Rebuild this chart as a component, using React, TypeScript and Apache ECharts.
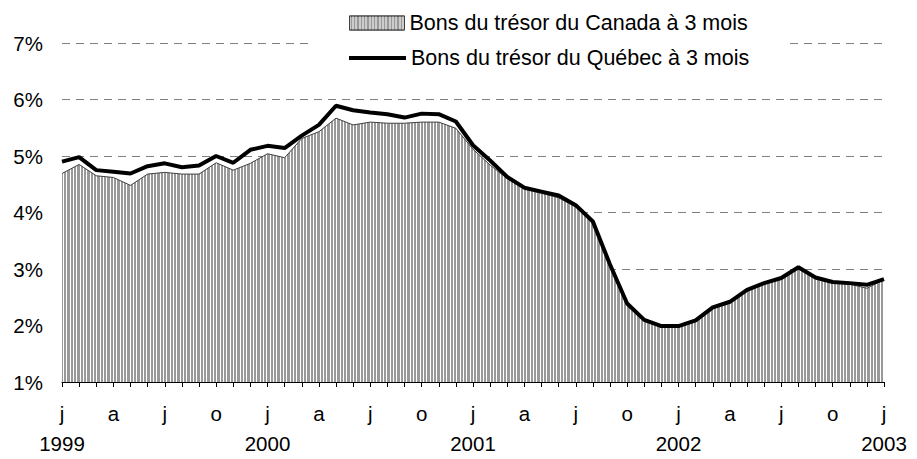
import { useEffect, useRef } from "react";
import * as echarts from "echarts";

const years = ["1999", "2000", "2001", "2002", "2003"];
const monthLetters = ["j", "f", "m", "a", "m", "j", "j", "a", "s", "o", "n", "d"];

// 49 monthly categories, Jan 1999 .. Jan 2003
const categories: string[] = [];
for (let y = 0; y < 4; y++) {
  for (let m = 0; m < 12; m++) categories.push(years[y] + "-" + String(m + 1).padStart(2, "0"));
}
categories.push(years[4] + "-01");

const tickLabels: string[] = categories.map((c) => {
  const [yy, mm] = c.split("-");
  const mi = parseInt(mm, 10) - 1;
  return mi === 0 ? monthLetters[mi] + "\n" + yy : monthLetters[mi];
});

const canadaName = "Bons du trésor du Canada à 3 mois";
const quebecName = "Bons du trésor du Québec à 3 mois";

const canada = [
  4.69, 4.85, 4.65, 4.62, 4.48, 4.68, 4.71, 4.68, 4.68, 4.88, 4.75, 4.87,
  5.04, 4.97, 5.31, 5.43, 5.67, 5.55, 5.60, 5.58, 5.58, 5.60, 5.60, 5.49,
  5.12, 4.84, 4.60, 4.41, 4.34, 4.26, 4.10, 3.82, 3.06, 2.37, 2.08, 1.97,
  1.97, 2.07, 2.30, 2.40, 2.61, 2.73, 2.82, 3.02, 2.83, 2.75, 2.73, 2.66,
  2.81,
];

const quebec = [
  4.90, 4.98, 4.75, 4.72, 4.69, 4.82, 4.87, 4.80, 4.83, 5.00, 4.88, 5.11,
  5.18, 5.14, 5.36, 5.55, 5.89, 5.81, 5.77, 5.74, 5.68, 5.75, 5.74, 5.61,
  5.19, 4.92, 4.63, 4.44, 4.37, 4.30, 4.13, 3.84, 3.08, 2.39, 2.10, 1.99,
  1.99, 2.09, 2.32, 2.42, 2.63, 2.75, 2.84, 3.03, 2.85, 2.77, 2.75, 2.72,
  2.82,
];

const FONT = "'Liberation Sans', Arial, sans-serif";

const stripes = {
  symbol: "rect",
  symbolSize: 1,
  color: "#ffffff",
  dashArrayX: [1, 2, 1, 2, 1, 3],
  dashArrayY: [1, 0],
  rotation: 0,
};

export default function App() {
  const ref = useRef<HTMLDivElement>(null);
  useEffect(() => {
    document.body.style.margin = "0";
    if (!ref.current) return;
    const chart = echarts.init(ref.current, null, { renderer: "svg" });
    const axisText = { color: "#000", fontFamily: FONT, fontSize: 20.5 };
    const legendText = { color: "#000", fontFamily: FONT, fontSize: 21.5, lineHeight: 22 };
    chart.setOption({
      animation: false,
      backgroundColor: "#ffffff",
      grid: { left: 62, right: 33, top: 43, bottom: 77, outerBoundsMode: "none", containLabel: false },
      legend: [
        {
          data: [
            {
              name: canadaName,
              icon: "rect",
              itemStyle: { color: "#999999", borderColor: "#404040", borderWidth: 1, decal: stripes },
            },
          ],
          left: 312,
          top: 8,
          orient: "vertical",
          padding: [4, 38, 4, 37],
          itemWidth: 55,
          itemHeight: 14,
          selectedMode: false,
          textStyle: legendText,
        },
        {
          data: [
            {
              name: quebecName,
              icon: "rect",
              itemStyle: { color: "#000000", borderWidth: 0 },
            },
          ],
          left: 312,
          top: 37,
          orient: "vertical",
          padding: [10, 38, 10, 37],
          backgroundColor: "#ffffff",
          itemWidth: 57,
          itemHeight: 4,
          selectedMode: false,
          textStyle: legendText,
        },
      ],
      xAxis: {
        type: "category",
        data: categories,
        boundaryGap: false,
        axisLine: { show: true, lineStyle: { color: "#000", width: 1 } },
        axisTick: { show: true, interval: 0, length: 5, lineStyle: { color: "#000", width: 1 } },
        axisLabel: {
          interval: 2,
          margin: 16,
          ...axisText,
          lineHeight: 30,
          formatter: (_v: string, i: number) => tickLabels[i],
        },
        splitLine: { show: false },
      },
      yAxis: {
        type: "value",
        min: 1,
        max: 7,
        interval: 1,
        axisLine: { show: false },
        axisTick: { show: false },
        axisLabel: { margin: 19, ...axisText, formatter: "{value}%" },
        splitLine: { show: true, lineStyle: { color: "#808080", type: [8, 6], width: 1 } },
      },
      series: [
        {
          name: canadaName,
          type: "line",
          data: canada,
          symbol: "none",
          z: 2,
          lineStyle: { color: "#404040", width: 1, decal: stripes },
          itemStyle: { color: "#999999", decal: stripes },
          areaStyle: { color: "#999999", opacity: 1, decal: stripes },
        },
        {
          name: quebecName,
          type: "line",
          data: quebec,
          symbol: "none",
          z: 3,
          lineStyle: { color: "#000000", width: 4 },
          itemStyle: { color: "#000000" },
        },
      ],
    });
    return () => chart.dispose();
  }, []);
  return <div ref={ref} style={{ width: 917, height: 459 }} />;
}
